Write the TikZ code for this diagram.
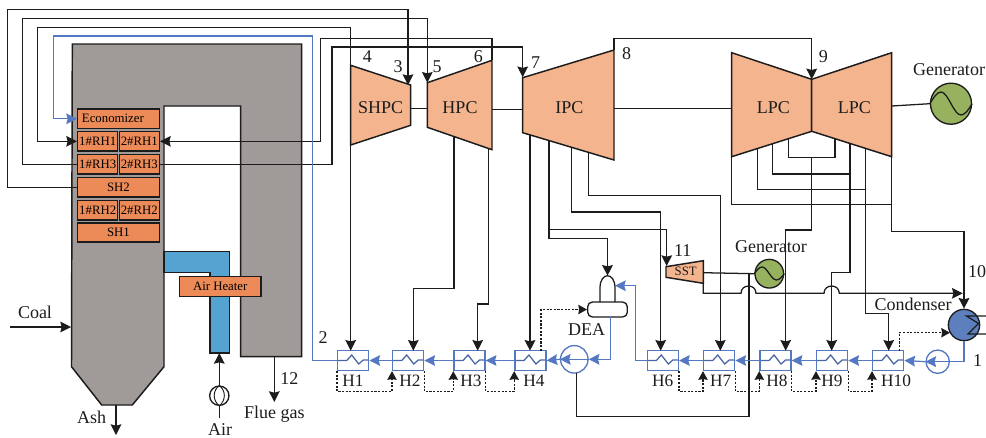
\documentclass[tikz,border=0pt]{standalone}
\usepackage{fontspec}
\setmainfont{Liberation Serif}
\usetikzlibrary{arrows.meta,calc}
\definecolor{boilergray}{HTML}{A09A98}
\definecolor{tubeorange}{HTML}{EC8B58}
\definecolor{turbinepeach}{HTML}{F3B48E}
\definecolor{ductblue}{HTML}{55A3D1}
\definecolor{gengreen}{HTML}{96B25E}
\definecolor{condblue}{HTML}{5D7FBD}
\definecolor{waterblue}{HTML}{5578C2}
\definecolor{inkblack}{HTML}{1C1C1C}
\tikzset{
    line/.style={draw=inkblack, line width=0.95pt},
    flow/.style={line, -{Stealth[length=8pt, width=8pt, inset=1pt]}},
    drain/.style={flow, -{Stealth[length=6.5pt, width=7pt, inset=0.5pt]}, dash pattern=on 1.6pt off 1.1pt},
    water/.style={draw=waterblue, line width=0.95pt},
    waterflow/.style={water, -{Stealth[length=8pt, width=8pt, inset=1pt]}},
    tube/.style={draw=inkblack, fill=tubeorange, line width=1.1pt, inner sep=0pt,
                 minimum height=14.5pt, font=\fontsize{9.6}{10}\selectfont},
    turbine/.style={line, fill=turbinepeach, line width=1.1pt},
    label/.style={text=inkblack, inner sep=0pt, font=\fontsize{13.5}{14}\selectfont},
    heatertag/.style={label, font=\fontsize{13}{14}\selectfont},
    heater/.style={draw=waterblue, line width=1.1pt, minimum width=23.2pt, minimum height=14.8pt,
                   inner sep=0pt, path picture={
        \draw[water, draw=waterblue!85!black] ([xshift=-11.6pt]path picture bounding box.center) -- ++(9,0)
            -- ++(5,-5.5) -- ++(7,9) -- ++(4.5,-4) -- ++(6,0) -- ++(0,0.5);}},
    generator/.style={circle, draw=inkblack, fill=gengreen, line width=1pt, inner sep=0pt},
    pump/.style={circle, draw=waterblue, line width=1pt, inner sep=0pt},
}

\begin{document}
\begin{tikzpicture}[x=0.75pt, y=-0.75pt]
    \path[use as bounding box] (0,0) rectangle (986,437);

    % boiler and air duct
    \draw[line, fill=boilergray, line width=1.1pt] (72.3,44) -- (301.7,44) -- (301.7,356.7) -- (240.7,356.7)
        -- (240.7,106) -- (164,106) -- (164,366.7) -- (132.3,405) -- (101.7,405) -- (71.5,366.7) -- cycle;
    \draw[line, fill=ductblue, line width=1.1pt] (164,251.7) -- (229.3,251.7) -- (229.3,353) -- (210,353)
        -- (210,272.7) -- (164,272.7) -- cycle;

    \coordinate (shpcin) at (408,85);
    \coordinate (shpcout) at (350.7,65.3);
    \coordinate (hpcin) at (427.3,82.7);
    \coordinate (hpcout) at (492,60.3);
    \coordinate (ipcin) at (522.7,77.2);
    \coordinate (ipcout) at (614,50);
    \coordinate (lpcin) at (811.7,79.3);

    % tube banks
    \node[tube, minimum width=61.2pt, align=left, text width=58pt] (economizer) at (118.5,118.8) {\,Economizer};
    \node[tube, minimum width=30pt] (rhonea) at (97.7,141.3) {1\#RH1};
    \node[tube, minimum width=30pt] (rhoneb) at (139.3,141.3) {2\#RH1};
    \node[tube, minimum width=30pt] (rhthreea) at (97.7,164.2) {1\#RH3};
    \node[tube, minimum width=30pt] (rhthreeb) at (139.3,164.2) {2\#RH3};
    \node[tube, minimum width=61.2pt] (shtwo) at (118.5,187.3) {SH2};
    \node[tube, minimum width=30pt] (rhtwoa) at (97.7,210.2) {1\#RH2};
    \node[tube, minimum width=30pt] (rhtwob) at (139.3,210.2) {2\#RH2};
    \node[tube, minimum width=61.2pt] (shone) at (118.5,232.5) {SH1};
    \node[tube, minimum width=61.2pt, minimum height=14.7pt] (airheater) at (220.2,286.5) {Air Heater};

    \draw[flow] (shtwo.west) -| (7.5,9.5) -| (shpcin);
    \draw[flow] (rhthreea.west) -| (22.7,18.5) -| (hpcin);
    \draw[flow] (shpcout) |- (37.7,27.5) |- (rhonea.west);
    \draw[flow] (hpcout) |- (320.7,38.3) |- (rhoneb.east);
    \draw[flow] (rhthreeb.east) -| (332,47) -| (ipcin);
    \draw[flow] (ipcout) -- (614,38.3) -| (lpcin);

    % turbines
    \draw[turbine] (shpcout) -- (410.7,85) -- (410.7,125.3) -- (350.7,145) -- cycle;
    \draw[turbine] (hpcin) -- (hpcout) -- (492,149.7) -- (427.3,127.3) -- cycle;
    \draw[turbine] (522.7,77.7) -- (ipcout) -- (614,160) -- (522.7,132.7) -- cycle;
    \draw[turbine] (731.7,52.7) -- (lpcin) -- (811.7,131.3) -- (731.7,156.7) -- cycle;
    \draw[turbine] (891.7,52.7) -- (lpcin) -- (811.7,131.3) -- (891.7,156.7) -- cycle;
    \draw[turbine] (666,266.7) -- (703.3,260.7) -- (703.3,283.3) -- (666,277.3) -- cycle;
    \node[label] (shpc) at (380.7,107.3) {SHPC};
    \node[label] (hpc) at (460,107.3) {HPC};
    \node[label] (ipc) at (569.3,107.3) {IPC};
    \node[label] (lpcleft) at (773.3,107.3) {LPC};
    \node[label] (lpcright) at (854.3,107.3) {LPC};
    \node[label, font=\fontsize{9.6}{10}\selectfont] (sst) at (685.7,271.7) {SST};
    \node[generator, minimum size=30.8pt] (maingen) at (951,103.7) {};
    \node[generator, minimum size=21.5pt] (minigen) at (769.3,273.7) {};
    \draw[line] (maingen.west) sin (941,92) cos (951,103.7) sin (961,115) cos (maingen.east);
    \draw[line] (minigen.west) sin (762,267) cos (769.3,273.7) sin (776.5,280) cos (minigen.east);

    % shafts
    \draw[line] (410.7,108.3) -- (427.3,108.3);
    \draw[line] (492,109.3) -- (522.7,109.3);
    \draw[line] (614,108.3) -- (731.7,108.3);
    \draw[line] (891.7,106) -- (maingen.west);
    \draw[line] (703.3,272.7) -- (minigen.west);

    % heaters
    \node[heater] (heaterone) at (353.2,360.5) {};
    \node[heater] (heatertwo) at (408.2,360.5) {};
    \node[heater] (heaterthree) at (469.5,360.5) {};
    \node[heater] (heaterfour) at (530.4,360.5) {};
    \node[heater] (heatersix) at (662.8,360.5) {};
    \node[heater] (heaterseven) at (719.2,360.5) {};
    \node[heater] (heatereight) at (775.5,360.5) {};
    \node[heater] (heaternine) at (832.2,360.5) {};
    \node[heater] (heaterten) at (888.2,360.5) {};
    \node[heatertag] (tagone) at (353,381) {H1};
    \node[heatertag] (tagtwo) at (410,381) {H2};
    \node[heatertag] (tagthree) at (471,381) {H3};
    \node[heatertag] (tagfour) at (534,381) {H4};
    \node[heatertag] (tagsix) at (662.7,381) {H6};
    \node[heatertag] (tagseven) at (720.7,381) {H7};
    \node[heatertag] (tageight) at (777,381) {H8};
    \node[heatertag] (tagnine) at (832,381) {H9};
    \node[heatertag] (tagten) at (896,381) {H10};

    \coordinate (inone) at (350.7,350.7);
    \coordinate (intwo) at (413.3,350.7);
    \coordinate (inthree) at (477.7,350.7);
    \coordinate (infour) at (530,350.7);
    \coordinate (insix) at (660.7,350.7);
    \coordinate (inseven) at (720.3,350.7);
    \coordinate (ineight) at (785.7,350.7);
    \coordinate (innine) at (831.7,350.7);
    \coordinate (inten) at (888.7,350.7);

    % deaerator, pumps, condenser
    \node[draw=inkblack, line width=1pt, rounded corners=3.5pt, minimum width=29.7pt, minimum height=11.2pt,
          inner sep=0pt] (dea) at (607.5,309.5) {};
    \coordinate (deatop) at (607.5,275.7);
    \coordinate (deaside) at (615,285.7);
    \draw[line] (600,302) -- (600,288) .. controls (600,279.5) and (604,275.7) .. (deatop)
        .. controls (611,275.7) and (615,279.5) .. (615,288) -- (615,302);
    \node[label] (dealabel) at (586.7,330) {DEA};
    \node[pump, minimum size=20.6pt] (feedpump) at (574.3,359.3) {};
    \node[pump, minimum size=17.5pt] (condpump) at (937.7,361.7) {};
    \node[circle, draw=inkblack, fill=condblue, line width=1pt, inner sep=0pt, minimum size=23.5pt] (condenser) at (964,325) {};
    \draw[line] (986,316) -- (966.5,316) -- (978.5,323.5) -- (968,334) -- (986,334);
    \coordinate (condside) at (950,332.7);

    % steam extractions
    \draw[flow] (350.7,145) -- (inone);
    \draw[flow] (454,136.5) -- (454,288.3) -| (intwo);
    \draw[flow] (488.7,148.5) -- (488.7,304) -| (inthree);
    \draw[flow] (530,134.9) -- (infour);
    \draw[flow] (549,140.6) -- (549,238.3) -| (deatop);
    \coordinate (ssttap) at (549,229.3);
    \draw[flow] (ssttap) -| (666.7,266);
    \draw[flow] (571.7,147.4) -- (571.7,212) -| (insix);
    \draw[flow] (588.7,152.4) -- (588.7,195.3) -| (inseven);

    \draw[line] (788.3,138.7) |- (835,157.3) -- (835,138.7);
    \draw[line] (772.7,143.7) |- (850,174);
    \draw[line] (757.7,148.4) |- (865.3,189.3);
    \draw[line] (731.7,156.7) |- (891.7,204.3);
    \draw[flow] (811.7,157.3) -- (811.7,230) -| (ineight);
    \draw[flow] (850,143.5) -- (850,272.7) -| (innine);
    \draw[flow] (865.3,148.3) -- (865.3,313.3) -| (inten);
    \draw[flow] (891.7,156.7) -- (891.7,231.7) -| (condenser.north);

    \coordinate (sstout) at (703.3,283.3);
    \coordinate (condtop) at (962.7,293.3);
    \draw[flow] (sstout) |- (741,293.3) .. controls (741,283.6) and (756,283.6) .. (756,293.3)
        -- (824,293.3) .. controls (824,283.6) and (839.3,283.6) .. (839.3,293.3) -- (condtop);
    \coordinate (shaftjoin) at (749,272.7);
    \coordinate (feedin) at (576.7,372.6);
    \draw[line] (shaftjoin) -- (749,416.7) -| (feedin);

    % feed water
    \draw[waterflow] (condenser.south) |- (condpump.west);
    \draw[waterflow] (condpump.west) -- (heaterten.east);
    \draw[waterflow] (heaterten.west) -- (heaternine.east);
    \draw[waterflow] (heaternine.west) -- (heatereight.east);
    \draw[waterflow] (heatereight.west) -- (heaterseven.east);
    \draw[waterflow] (heaterseven.west) -- (heatersix.east);
    \draw[waterflow] (heatersix.west) -| (635.7,285.7) -- (deaside);
    \draw[waterflow] (610.3,315.5) |- (feedpump.east);
    \draw[waterflow] (feedpump.east) -- (feedpump.west);
    \draw[waterflow] (feedpump.west) -- (heaterfour.east);
    \draw[waterflow] (heaterfour.west) -- (heaterthree.east);
    \draw[waterflow] (heaterthree.west) -- (heatertwo.east);
    \draw[waterflow] (heatertwo.west) -- (heaterone.east);
    \draw[waterflow] (heaterone.west) -| (312.5,36) -- (53.3,36) |- (economizer.west);

    % drains
    \coordinate (fourout) at (541,350.7);
    \coordinate (tenout) at (899.3,350.7);
    \draw[drain] (heaterone.south west) -- ++(0,20.2) -| (heatertwo.south west);
    \draw[drain] (heatertwo.south east) -- ++(0,20.2) -| (heaterthree.south west);
    \draw[drain] (heaterthree.south east) -- ++(0,20.2) -| (heaterfour.south west);
    \draw[drain] (fourout) |- (dea.west);
    \draw[drain] (heatersix.south east) -- ++(0,20.2) -| (heaterseven.south west);
    \draw[drain] (heaterseven.south east) -- ++(0,20.2) -| (heatereight.south west);
    \draw[drain] (heatereight.south east) -- ++(0,20.2) -| (heaternine.south west);
    \draw[drain] (heaternine.south east) -- ++(0,20.2) -| (heaterten.south west);
    \draw[drain] (tenout) |- (condside);

    % boiler connections
    \coordinate (coalin) at (10,327);
    \coordinate (furnaceside) at (71,327);
    \coordinate (ashout) at (116,405);
    \coordinate (ashend) at (116,435);
    \coordinate (fluebase) at (274.3,356.7);
    \coordinate (flueend) at (274.3,402);
    \coordinate (ductbase) at (219.3,353);
    \coordinate (airin) at (219.3,418);
    \node[circle, draw=inkblack, line width=1pt, inner sep=0pt, minimum size=14.5pt] (fan) at (219.3,395.7) {};
    \draw[line, line width=0.7pt] (fan.north) .. controls (212.5,391) and (212.5,400) .. (fan.south);
    \draw[line, line width=0.7pt] (fan.north) .. controls (226,391) and (226,400) .. (fan.south);
    \draw[flow] (coalin) -- (furnaceside);
    \draw[flow] (ashout) -- (ashend);
    \draw[flow] (fluebase) -- (flueend);
    \draw[flow] (fan.north) -- (ductbase);
    \draw[line] (airin) -- (fan.south);

    % labels
    \node[label] (coal) at (35,312) {Coal};
    \node[label] (ash) at (91.7,417) {Ash};
    \node[label] (air) at (220,430) {Air};
    \node[label] (fluegas) at (274.3,414) {Flue gas};
    \node[label] (pointtwelve) at (289.3,379) {12};
    \node[label] (pointtwo) at (323,338) {2};
    \node[label] (pointfour) at (367.3,57) {4};
    \node[label] (pointthree) at (398,66.7) {3};
    \node[label] (pointfive) at (437,66.7) {5};
    \node[label] (pointsix) at (478.3,57) {6};
    \node[label] (pointseven) at (535.7,63) {7};
    \node[label] (pointeight) at (626.7,54) {8};
    \node[label] (pointnine) at (823.3,56.7) {9};
    \node[label] (pointeleven) at (682.7,251) {11};
    \node[label] (pointten) at (977,271.7) {10};
    \node[label] (pointone) at (977.7,360.7) {1};
    \node[label] (maingenlabel) at (949,69.7) {Generator};
    \node[label] (minigenlabel) at (771,246.7) {Generator};
    \node[label] (condlabel) at (913,304) {Condenser};
\end{tikzpicture}
\end{document}
